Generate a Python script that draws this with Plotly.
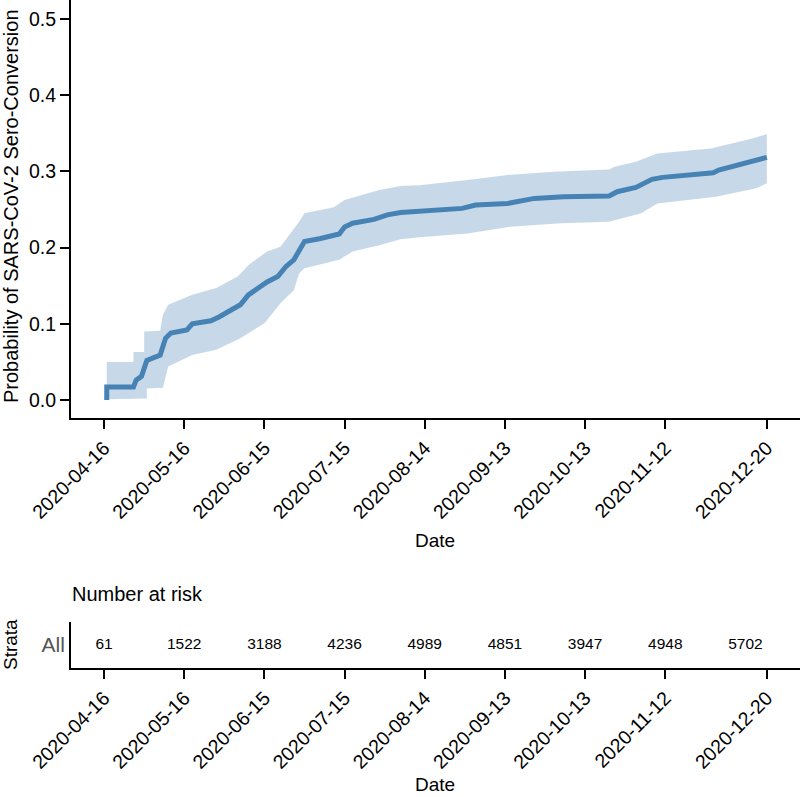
import plotly.graph_objects as go

# Cumulative sero-conversion estimate (corner points of the curve)
est_dates = ["2020-04-17", "2020-04-17", "2020-04-27", "2020-04-28", "2020-04-30", "2020-05-01",
             "2020-05-02", "2020-05-07", "2020-05-08", "2020-05-09", "2020-05-11", "2020-05-17",
             "2020-05-19", "2020-05-26", "2020-05-29", "2020-06-03", "2020-06-06", "2020-06-09",
             "2020-06-16", "2020-06-20", "2020-06-23", "2020-06-26", "2020-06-28", "2020-06-30",
             "2020-07-06", "2020-07-13", "2020-07-15", "2020-07-18", "2020-07-26", "2020-07-31",
             "2020-08-05", "2020-08-12", "2020-08-28", "2020-09-02", "2020-09-14", "2020-09-24",
             "2020-10-05", "2020-10-22", "2020-10-25", "2020-11-01", "2020-11-07", "2020-11-11",
             "2020-11-30", "2020-12-02", "2020-12-15", "2020-12-20"]
est_values = [0.0, 0.017, 0.017, 0.026, 0.031, 0.042,
              0.052, 0.059, 0.068, 0.081, 0.088, 0.092,
              0.100, 0.104, 0.109, 0.120, 0.125, 0.138,
              0.155, 0.162, 0.175, 0.184, 0.197, 0.208,
              0.212, 0.218, 0.227, 0.232, 0.237, 0.243,
              0.246, 0.248, 0.2515, 0.256, 0.258, 0.2646,
              0.2668, 0.2677, 0.2734, 0.279, 0.2896, 0.2922,
              0.2983, 0.3018, 0.3128, 0.3185]

upper_dates = ["2020-04-17", "2020-04-27", "2020-04-27", "2020-05-01", "2020-05-01", "2020-05-07",
               "2020-05-08", "2020-05-10", "2020-05-19", "2020-05-28", "2020-06-05", "2020-06-09",
               "2020-06-16", "2020-06-21", "2020-06-28", "2020-06-30", "2020-07-11", "2020-07-15",
               "2020-07-28", "2020-08-05", "2020-08-12", "2020-08-30", "2020-09-14", "2020-10-01",
               "2020-10-22", "2020-10-24", "2020-11-01", "2020-11-09", "2020-11-29", "2020-12-15",
               "2020-12-20"]
upper_values = [0.050, 0.050, 0.063, 0.063, 0.090, 0.091,
                0.112, 0.125, 0.138, 0.147, 0.162, 0.177,
                0.195, 0.201, 0.234, 0.245, 0.253, 0.2625,
                0.2756, 0.2808, 0.282, 0.2887, 0.2953, 0.2996,
                0.3027, 0.306, 0.3128, 0.3237, 0.330, 0.3434,
                0.349]

lower_dates = ["2020-04-17", "2020-05-02", "2020-05-02", "2020-05-08", "2020-05-10", "2020-05-19",
               "2020-05-28", "2020-06-06", "2020-06-15", "2020-06-21", "2020-06-26", "2020-06-28",
               "2020-06-30", "2020-07-13", "2020-07-18", "2020-07-28", "2020-08-05", "2020-08-12",
               "2020-08-30", "2020-09-15", "2020-10-04", "2020-10-22", "2020-11-03", "2020-11-09",
               "2020-12-01", "2020-12-16", "2020-12-20"]
lower_values = [0.001, 0.002, 0.015, 0.016, 0.044, 0.059,
                0.066, 0.081, 0.1006, 0.127, 0.144, 0.166,
                0.173, 0.184, 0.195, 0.203, 0.2109, 0.2135,
                0.2187, 0.2274, 0.2319, 0.234, 0.245, 0.258,
                0.2668, 0.2778, 0.2844]

tick_dates = ["2020-04-16", "2020-05-16", "2020-06-15", "2020-07-15", "2020-08-14",
              "2020-09-13", "2020-10-13", "2020-11-12", "2020-12-20"]
risk_dates = ["2020-04-16", "2020-05-16", "2020-06-15", "2020-07-15", "2020-08-14",
              "2020-09-13", "2020-10-13", "2020-11-12", "2020-12-12"]
number_at_risk = [61, 1522, 3188, 4236, 4989, 4851, 3947, 4948, 5702]
y_ticks = [0.0, 0.1, 0.2, 0.3, 0.4, 0.5]

W, H = 800, 797
FONT = "Liberation Sans, Arial, sans-serif"
LINE = "#4682B4"
BAND = "rgba(70,130,180,0.30)"


def py(px):
    return 1 - px / H


fig = go.Figure()
fig.add_trace(go.Scatter(x=lower_dates, y=lower_values, mode="lines",
                         line=dict(width=0, color=BAND), showlegend=False, hoverinfo="skip"))
fig.add_trace(go.Scatter(x=upper_dates, y=upper_values, mode="lines",
                         line=dict(width=0, color=BAND), fill="tonexty", fillcolor=BAND,
                         showlegend=False, hoverinfo="skip"))
fig.add_trace(go.Scatter(x=est_dates, y=est_values, mode="lines",
                         line=dict(width=5, color=LINE), showlegend=False))
fig.add_trace(go.Scatter(x=risk_dates, y=[0] * len(risk_dates), mode="text",
                         text=[str(v) for v in number_at_risk],
                         textfont=dict(size=15.5, color="black", family=FONT),
                         xaxis="x2", yaxis="y2", showlegend=False, hoverinfo="skip"))

x_range = ["2020-04-03 15:00", "2021-01-01 10:00"]
axis_common = dict(showline=True, linewidth=2, linecolor="black", ticks="outside",
                   ticklen=9, tickwidth=2, tickcolor="black", showgrid=False, zeroline=False,
                   automargin=False, tickfont=dict(size=19.5, color="black", family=FONT))

fig.update_layout(
    width=W, height=H,
    margin=dict(l=0, r=0, t=0, b=0, autoexpand=False),
    paper_bgcolor="white", plot_bgcolor="white",
    font=dict(family=FONT, color="black"),
    xaxis=dict(domain=[71 / W, 1], range=x_range, type="date", tickmode="array",
               tickvals=tick_dates, ticktext=tick_dates, tickangle=-45, anchor="y",
               **axis_common),
    yaxis=dict(domain=[py(418), 1], range=[-0.0236, 0.525], tickmode="array",
               tickvals=y_ticks, ticktext=[f"{v:.1f}" for v in y_ticks], anchor="x",
               **axis_common),
    xaxis2=dict(domain=[71 / W, 1], range=x_range, type="date", tickmode="array",
                tickvals=tick_dates, ticktext=tick_dates, tickangle=-45, anchor="y2",
                **axis_common),
    yaxis2=dict(domain=[py(668), py(622)], range=[-1, 1], tickmode="array",
                tickvals=[0], ticktext=["All"], anchor="x2", showline=True, linewidth=2,
                linecolor="black", ticks="", showgrid=False, zeroline=False, automargin=False,
                tickfont=dict(size=21, color="#555555", family=FONT)),
    annotations=[
        dict(text="Probability of SARS-CoV-2 Sero-Conversion", textangle=-90,
             x=11 / W, y=py(206), xref="paper", yref="paper", showarrow=False,
             xanchor="center", yanchor="middle", font=dict(size=20, color="black", family=FONT)),
        dict(text="Date", x=435 / W, y=py(540), xref="paper", yref="paper", showarrow=False,
             xanchor="center", yanchor="middle", font=dict(size=19, color="black", family=FONT)),
        dict(text="Number at risk", x=70 / W, y=py(594), xref="paper", yref="paper",
             showarrow=False, xanchor="left", yanchor="middle",
             font=dict(size=20, color="black", family=FONT)),
        dict(text="Strata", textangle=-90, x=10 / W, y=py(645), xref="paper", yref="paper",
             showarrow=False, xanchor="center", yanchor="middle",
             font=dict(size=19, color="black", family=FONT)),
        dict(text="Date", x=435 / W, y=py(784), xref="paper", yref="paper", showarrow=False,
             xanchor="center", yanchor="middle", font=dict(size=19, color="black", family=FONT)),
    ],
)

fig.write_html("out.html", config={"displayModeBar": False},
               post_script="document.body.style.margin='0';document.body.style.overflow='hidden';")
